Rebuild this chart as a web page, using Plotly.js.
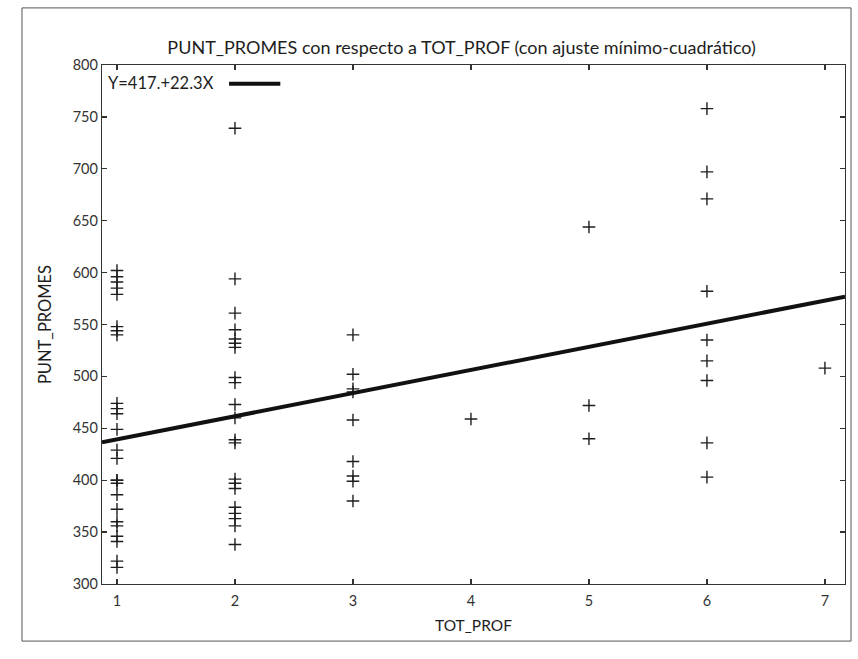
<!DOCTYPE html>
<html>
<head>
<meta charset="utf-8">
<script src="https://cdn.plot.ly/plotly-3.0.1.min.js"></script>
<style>html,body{margin:0;padding:0;background:#fff;}#chart{width:858px;height:659px;}</style>
</head>
<body>
<div id="chart"></div>
<script>
// Data (TOT_PROF groups and PUNT_PROMES values)
var x1vals = [602, 596, 591, 585, 579, 548, 544, 540, 474, 469, 464, 449, 429, 421, 400, 400, 397, 386, 372, 360, 356, 346, 341, 322, 316];
var x2vals = [739, 594, 561, 545, 536, 532, 528, 499, 494, 473, 460, 439, 436, 401, 397, 392, 374, 368, 363, 356, 338];
var x3vals = [540, 502, 488, 485, 458, 418, 404, 399, 380];
var x4vals = [459];
var x5vals = [644, 472, 440];
var x6vals = [758, 697, 671, 582, 535, 515, 496, 436, 403];
var x7vals = [508];
var groups = [1, 2, 3, 4, 5, 6, 7];
var groupVals = [x1vals, x2vals, x3vals, x4vals, x5vals, x6vals, x7vals];

var fitIntercept = 417;
var fitSlope = 22.3;
var fitLabel = "Y=417.+22.3X";

var xRange = [0.873, 7.17];
var yRange = [300, 800];
var yTicks = [300, 350, 400, 450, 500, 550, 600, 650, 700, 750, 800];
var xTicks = [1, 2, 3, 4, 5, 6, 7];

var px = [], py = [];
groups.forEach(function (g, i) {
  groupVals[i].forEach(function (v) { px.push(g); py.push(v); });
});

var fitX = [xRange[0], xRange[1]];
var fitY = fitX.map(function (x) { return fitIntercept + fitSlope * x; });

var ink = '#1e1e1e';
var fontFam = 'Lato, "Open Sans", sans-serif';

var traces = [
  {
    x: px, y: py, type: 'scatter', mode: 'markers', name: 'datos',
    marker: { symbol: 'cross-thin', size: 9, color: ink, line: { color: ink, width: 1.4 } },
    showlegend: false, cliponaxis: false
  },
  {
    x: fitX, y: fitY, type: 'scatter', mode: 'lines', name: fitLabel,
    line: { color: '#111', width: 4 }, showlegend: false
  }
];

var axisCommon = {
  showgrid: false, zeroline: false, showline: true, linecolor: '#333', linewidth: 1.2,
  mirror: 'ticks', ticks: 'inside', ticklen: 5, tickcolor: '#333', tickwidth: 1.2,
  tickfont: { family: fontFam, size: 14.5, color: '#333' }
};

var layout = {
  width: 858, height: 659,
  margin: { l: 102, r: 13, t: 65, b: 75 },
  paper_bgcolor: '#fff', plot_bgcolor: '#fff',
  font: { family: fontFam, color: ink },
  title: {
    text: 'PUNT_PROMES con respecto a TOT_PROF (con ajuste mínimo-cuadrático)',
    font: { family: fontFam, size: 18, color: ink },
    x: 0.538, xanchor: 'center', xref: 'container', y: 0.928, yanchor: 'middle', yref: 'container'
  },
  xaxis: Object.assign({}, axisCommon, {
    range: xRange, tickvals: xTicks, ticktext: xTicks.map(String), ticklabelstandoff: 3,
    title: { text: 'TOT_PROF', font: { family: fontFam, size: 15.5, color: ink }, standoff: 12 }
  }),
  yaxis: Object.assign({}, axisCommon, {
    range: yRange, tickvals: yTicks, ticktext: yTicks.map(String),
    title: { text: 'PUNT_PROMES', font: { family: fontFam, size: 16.5, color: ink }, standoff: 16 }
  }),
  annotations: [
    {
      text: fitLabel, xref: 'paper', yref: 'paper', x: 0.005, y: 0.966,
      xanchor: 'left', yanchor: 'middle', showarrow: false,
      font: { family: fontFam, size: 16.5, color: ink }
    }
  ],
  shapes: [
    { type: 'line', xref: 'paper', yref: 'paper', x0: 0.171, x1: 0.240, y0: 0.964, y1: 0.964,
      line: { color: '#111', width: 4 } },
    { type: 'rect', xref: 'paper', yref: 'paper', x0: -0.1077, x1: 1.0081, y0: -0.11, y1: 1.11,
      line: { color: '#555', width: 1 }, fillcolor: 'rgba(0,0,0,0)', layer: 'below' }
  ]
};

Plotly.newPlot('chart', traces, layout, { displayModeBar: false, staticPlot: true });
</script>
</body>
</html>
